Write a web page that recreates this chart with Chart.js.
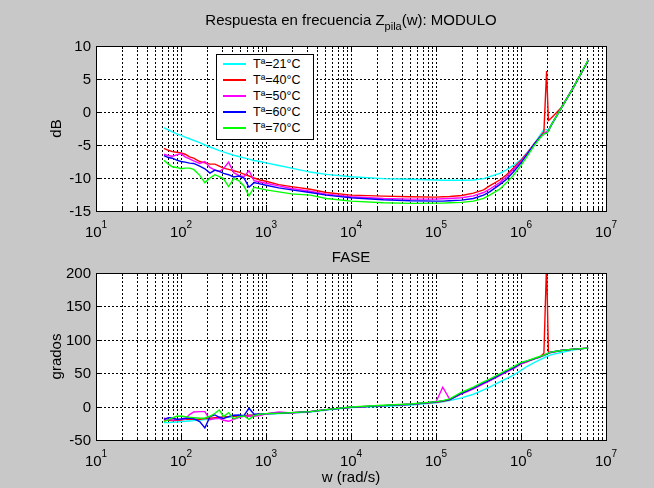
<!DOCTYPE html>
<html>
<head>
<meta charset="utf-8">
<title>Respuesta en frecuencia Zpila(w)</title>
<script src="https://cdn.jsdelivr.net/npm/chart.js@4.4.1/dist/chart.umd.min.js"></script>
<style>
  html, body { margin:0; padding:0; }
  body { width:654px; height:488px; background:#c8c8c8; position:relative; overflow:hidden;
         font-family:"Liberation Sans", Arial, Helvetica, sans-serif; color:#000; }
  canvas { position:absolute; left:0; }
  #c1 { top:0; }
  #c2 { top:250px; }
  .lbl { position:absolute; font-size:15px; line-height:18px; white-space:nowrap; text-align:center; }
  #title { left:0; width:702px; top:11px; }
  #title .sub { font-size:11px; position:relative; top:5px; }
  #fase { left:0; width:702px; top:248px; }
  #legend { position:absolute; left:216px; top:54px; width:98px; height:86px; box-sizing:border-box;
            border:1px solid #000; background:#fff; font-size:12.5px; }
  .lrow { position:absolute; left:0; height:16px; line-height:16px; width:96px; }
  .lline { position:absolute; left:6px; top:7px; width:23px; height:2px; }
  .ltext { position:absolute; left:36px; top:0; white-space:nowrap; }
</style>
</head>
<body>
<canvas id="c1" width="654" height="250"></canvas>
<canvas id="c2" width="654" height="238"></canvas>
<div id="title" class="lbl">Respuesta en frecuencia Z<span class="sub">pila</span>(w): MODULO</div>
<div id="fase" class="lbl">FASE</div>
<div id="legend"></div>
<script>
// ---------- data ----------
const freqs = [63,71,79,89,100, 112,126,141,166,191, 219,251,282,316,363, 417,479,550,631,724,
  851,1000,1413,1995,3311, 5129,1e4,2.4e4,5e4,1e5, 1.2e5,1.45e5,2e5,2.75e5,3.63e5,
  4.27e5,5.62e5,6.76e5,8.13e5,1e6, 1.17e6,1.41e6,1.66e6,1.86e6,2.0e6, 2.1e6,2.24e6,2.95e6,4.17e6,6.17e6];

const seriesLabels = ['Tª=21°C', 'Tª=40°C', 'Tª=50°C', 'Tª=60°C', 'Tª=70°C'];
const seriesColors = ['#00ffff', '#ff0000', '#ff00ff', '#0000ff', '#00ff00'];

// magnitude (dB)
const magT21 = [-2.4,-2.7,-3.0,-3.3,-3.55, -3.8,-4.05,-4.3,-4.65,-5.0, -5.3,-5.6,-5.85,-6.05,-6.3, -6.55,-6.75,-6.95,-7.15,-7.35,
  -7.5,-7.7,-8.1,-8.5,-9.1, -9.45,-9.8,-10.1,-10.2,-10.3, -10.35,-10.35,-10.35,-10.3,-10.1, -9.8,-9.3,-8.75,-8.1,-7.2,
  -6.2,-4.9,-3.6,-2.7,-2.7, -2.8,-2.1,0.5,3.8,7.8];
const magT40 = [-5.5,-5.8,-6.0,-6.1,-6.2, -6.4,-6.8,-7.0,-7.5,-7.7, -7.9,-7.9,-8.2,-8.5,-8.7, -8.9,-9.1,-9.4,-9.7,-10.0,
  -10.3,-10.5,-11.0,-11.3,-11.7, -12.2,-12.6,-12.75,-12.85,-12.9, -12.85,-12.8,-12.65,-12.3,-11.8, -11.2,-10.3,-9.5,-8.5,-7.3,
  -6.3,-4.9,-3.8,-3.0,6.2, -1.3,-1.0,0.6,3.8,7.8];
const magT50 = [-6.4,-6.6,-6.7,-6.5,-6.3, -6.8,-7.1,-7.4,-7.8,-7.5, -8.4,-8.8,-9.0,-8.6,-7.6, -9.2,-9.6,-9.8,-8.9,-10.4,
  -10.6,-10.8,-11.2,-11.6,-12.0, -12.45,-12.85,-13.1,-13.2,-13.2, -13.15,-13.1,-13.0,-12.7,-12.2, -11.7,-10.7,-9.8,-8.7,-7.5,
  -6.4,-5.0,-3.9,-3.2,-3.0, -2.8,-2.1,0.5,3.8,7.8];
const magT60 = [-6.6,-6.9,-7.0,-7.3,-7.5, -7.6,-7.75,-7.8,-8.2,-8.6, -9.25,-8.8,-9.0,-9.3,-9.5, -9.85,-9.7,-10.0,-11.4,-10.7,
  -10.9,-11.1,-11.5,-11.8,-12.2, -12.6,-13.0,-13.3,-13.45,-13.5, -13.5,-13.45,-13.35,-13.1,-12.6, -12.1,-11.0,-10.2,-9.1,-7.7,
  -6.5,-5.0,-3.9,-3.3,-3.2, -2.9,-2.1,0.5,3.8,7.8];
const magT70 = [-7.3,-7.9,-8.3,-8.4,-8.6, -8.5,-8.5,-8.7,-9.6,-10.7, -10.0,-9.5,-9.8,-10.1,-11.3, -10.1,-10.4,-11.2,-12.7,-11.4,
  -11.6,-11.8,-12.1,-12.4,-12.6, -13.1,-13.5,-13.75,-13.85,-13.8, -13.8,-13.75,-13.7,-13.5,-13.1, -12.6,-11.7,-10.7,-9.6,-8.1,
  -6.8,-5.2,-4.0,-3.3,-3.2, -2.9,-2.1,0.5,3.8,7.9];

// phase (grados)
const phaseT21 = [-24,-24,-23.5,-23,-22.5, -22,-21.5,-21,-20,-19.5, -19,-18,-17.5,-16.5,-16, -15,-14,-13.5,-13,-12.5,
  -12,-11.5,-10.5,-9.5,-8, -5,-1.5,0.5,2.5,5.5, 7,9,13,18.5,25, 29,37,42,47,54,
  60,65.5,70,73,75, 76,77.5,81,85,87.5];
const phaseT40 = [-20,-20.5,-21,-20.5,-20, -19,-19,-19,-19,-18, -17.5,-16.5,-16,-15.5,-15, -14.5,-14,-13.5,-13,-12.5,
  -11.5,-10.5,-10,-9,-7.5, -4.5,-1,1.5,3.5,6.5, 8,10,19.5,27,35, 39,47,52.5,57.5,64,
  67,71,74,80,215, 82,81,84,86,87.5];
const phaseT50 = [-17.5,-19,-20,-19.5,-19, -18.5,-12,-8,-7.5,-7.5, -19.5,-18,-17.5,-20.5,-22, -19,-16.5,-14.5,-14,-14.5,
  -13.5,-11,-8,-9.5,-7.5, -4.5,-1,1.5,3.5,7, 29,11,19,26.5,34, 38.5,46.5,52,57,64,
  67.5,71,74,76.5,78.5, 79.5,81,84,86,87.5];
const phaseT60 = [-19,-16.5,-17,-19,-18.5, -17.5,-17.5,-18,-22.5,-32, -15,-12.5,-16,-18,-15, -13,-12.5,-13.5,-2.5,-11.5,
  -11,-10.5,-10,-9,-7.5, -4.5,-1,1.5,3.5,7, 8.5,10.5,20,27.5,35.5, 39.5,47.5,53,58,65,
  68,71.5,74.5,77,78.5, 80,81.5,84,86,87.5];
const phaseT70 = [-22.5,-20,-17,-14.5,-14, -15,-16,-16.5,-17.5,-17, -14.5,-10,-5,-15,-9, -18.5,-15,-14,-19,-13.5,
  -11.5,-10.5,-10,-9,-7.5, -4.5,-0.5,2,4,7.5, 9,11.5,21.5,29,37, 41,49,54.5,59.5,66,
  68.5,72,75,77,79, 80,81.5,84,86,87.5];

// axes / ticks
const xMin = 10, xMax = 1e7;
const xTickBase = '10';
const xTickExponents = ['1', '2', '3', '4', '5', '6', '7'];
const xMinorMultipliers = [1, 2, 3, 4, 5, 6, 7, 8, 9];
const magYTicks = [-15, -10, -5, 0, 5, 10];
const phaseYTicks = [-50, 0, 50, 100, 150, 200];

// ---------- chart ----------
const FAM = '"Liberation Sans", Arial, Helvetica, sans-serif';
Chart.defaults.font.family = FAM;
Chart.defaults.font.size = 15;
Chart.defaults.color = '#000';

function makeDatasets(arrays) {
  return arrays.map((arr, i) => ({
    label: seriesLabels[i],
    data: freqs.map((f, j) => ({ x: f, y: arr[j] })),
    borderColor: seriesColors[i],
    backgroundColor: seriesColors[i],
    borderWidth: 1.4,
    pointRadius: 0,
    pointHoverRadius: 0,
    tension: 0,
    fill: false,
    order: arrays.length - i
  }));
}

// grid positions on the log axis: m * 10^e for each decade inside [xMin, xMax]
function gridTicks() {
  const t = [];
  xTickExponents.forEach(e => {
    const dec = Math.pow(10, Number(e));
    if (dec >= xMax) return;
    xMinorMultipliers.forEach(m => t.push({ value: m * dec, major: m === 1 }));
  });
  t.push({ value: xMax, major: true });
  return t;
}

const matlabAxes = {
  id: 'matlabAxes',
  beforeDatasetsDraw(chart) {
    const { ctx, chartArea: a } = chart;
    const xs = chart.scales.x, ys = chart.scales.y;
    const o = chart.options.plugins.matlabAxes;
    ctx.save();
    ctx.fillStyle = '#fff';
    ctx.fillRect(a.left, a.top, a.right - a.left, a.bottom - a.top);
    ctx.strokeStyle = '#000';
    ctx.lineWidth = 1;
    ctx.setLineDash([2, 2]);
    ctx.beginPath();
    gridTicks().forEach(t => {
      const px = Math.round(xs.getPixelForValue(t.value)) + 0.5;
      if (px > a.left + 2 && px < a.right - 2) { ctx.moveTo(px, a.top); ctx.lineTo(px, a.bottom); }
    });
    o.yTicks.forEach(v => {
      const py = Math.round(ys.getPixelForValue(v)) + 0.5;
      if (py > a.top + 2 && py < a.bottom - 2) { ctx.moveTo(a.left, py); ctx.lineTo(a.right, py); }
    });
    ctx.stroke();
    ctx.restore();
  },
  afterDatasetsDraw(chart) {
    const { ctx, chartArea: a } = chart;
    const xs = chart.scales.x, ys = chart.scales.y;
    const o = chart.options.plugins.matlabAxes;
    ctx.save();
    ctx.strokeStyle = '#000';
    ctx.lineWidth = 1;
    ctx.setLineDash([]);
    ctx.beginPath();
    gridTicks().forEach(t => {
      const px = Math.round(xs.getPixelForValue(t.value)) + 0.5;
      if (px < a.left || px > a.right + 1) return;
      const len = t.major ? 6 : 3;
      ctx.moveTo(px, a.bottom); ctx.lineTo(px, a.bottom - len);
      ctx.moveTo(px, a.top); ctx.lineTo(px, a.top + len);
    });
    o.yTicks.forEach(v => {
      const py = Math.round(ys.getPixelForValue(v)) + 0.5;
      ctx.moveTo(a.left, py); ctx.lineTo(a.left + 5, py);
      ctx.moveTo(a.right, py); ctx.lineTo(a.right - 5, py);
    });
    ctx.stroke();
    ctx.strokeRect(Math.round(a.left) + 0.5, Math.round(a.top) + 0.5,
                   Math.round(a.right - a.left), Math.round(a.bottom - a.top));
    ctx.fillStyle = '#000';
    // y tick labels
    ctx.font = '15px ' + FAM;
    ctx.textAlign = 'right';
    ctx.textBaseline = 'middle';
    o.yTicks.forEach(v => {
      ctx.fillText(String(v), a.left - 5, Math.round(ys.getPixelForValue(v)) + 1);
    });
    // x tick labels 10^k
    ctx.textAlign = 'left';
    ctx.textBaseline = 'alphabetic';
    xTickExponents.forEach(e => {
      const px = xs.getPixelForValue(Math.pow(10, Number(e)));
      ctx.font = '15px ' + FAM;
      const w1 = ctx.measureText(xTickBase).width;
      ctx.font = '10px ' + FAM;
      const w2 = ctx.measureText(e).width;
      const x0 = px - (w1 + w2) / 2;
      ctx.font = '15px ' + FAM;
      ctx.fillText(xTickBase, x0, a.bottom + 26);
      ctx.font = '10px ' + FAM;
      ctx.fillText(e, x0 + w1, a.bottom + 17);
    });
    // axis titles
    ctx.font = '15px ' + FAM;
    ctx.textAlign = 'center';
    ctx.textBaseline = 'middle';
    ctx.save();
    ctx.translate(57, (a.top + a.bottom) / 2);
    ctx.rotate(-Math.PI / 2);
    ctx.fillText(o.yTitle, 0, 0);
    ctx.restore();
    if (o.xTitle) {
      ctx.fillText(o.xTitle, (a.left + a.right) / 2, a.bottom + 38);
    }
    ctx.restore();
  }
};

function makeChart(canvasId, arrays, yMin, yMax, yTicks, yTitle, topPad, xAxisHeight, xTitle) {
  return new Chart(document.getElementById(canvasId), {
    type: 'line',
    data: { datasets: makeDatasets(arrays) },
    options: {
      responsive: false,
      animation: false,
      events: [],
      layout: { padding: { left: 0, right: 48, top: topPad, bottom: 0 } },
      plugins: {
        legend: { display: false }, tooltip: { enabled: false }, title: { display: false },
        matlabAxes: { yTicks: yTicks, yTitle: yTitle, xTitle: xTitle }
      },
      scales: {
        x: {
          type: 'logarithmic', min: xMin, max: xMax,
          grid: { display: false, drawTicks: false },
          border: { display: false },
          ticks: { display: false },
          afterFit: s => { s.height = xAxisHeight; },
          title: { display: false }
        },
        y: {
          type: 'linear', min: yMin, max: yMax,
          grid: { display: false, drawTicks: false },
          border: { display: false },
          ticks: { display: false },
          afterFit: s => { s.width = 96; },
          title: { display: false }
        }
      }
    },
    plugins: [matlabAxes]
  });
}

makeChart('c1', [magT21, magT40, magT50, magT60, magT70], -15, 10, magYTicks, 'dB', 46, 39, null);
makeChart('c2', [phaseT21, phaseT40, phaseT50, phaseT60, phaseT70], -50, 200, phaseYTicks, 'grados', 23, 48, 'w (rad/s)');

// legend built from the series arrays
const legendEl = document.getElementById('legend');
seriesLabels.forEach((lab, i) => {
  const row = document.createElement('div');
  row.className = 'lrow';
  row.style.top = (1 + i * 16) + 'px';
  const line = document.createElement('div');
  line.className = 'lline';
  line.style.background = seriesColors[i];
  const txt = document.createElement('span');
  txt.className = 'ltext';
  txt.textContent = lab;
  row.appendChild(line);
  row.appendChild(txt);
  legendEl.appendChild(row);
});
</script>
</body>
</html>
